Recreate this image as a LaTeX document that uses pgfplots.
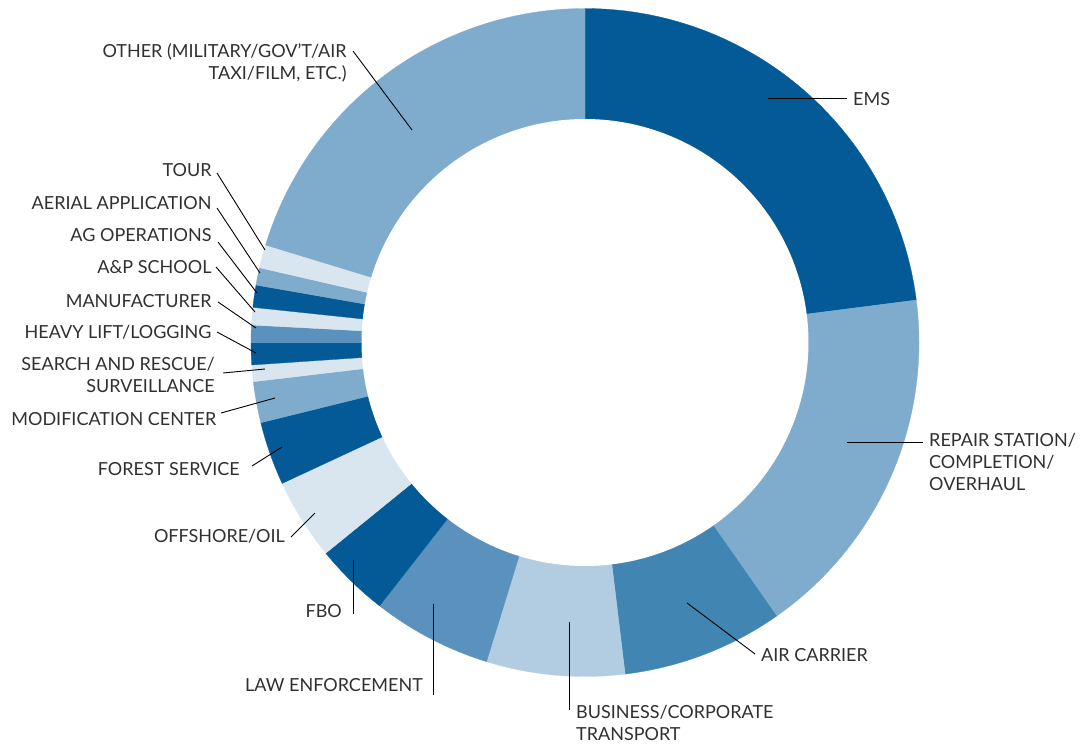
\documentclass[border=0pt]{standalone}
\usepackage{pgfplots}
\pgfplotsset{compat=1.18}
\usepackage{fontspec}
\setmainfont{Lato}
\definecolor{cdark}{RGB}{4,90,150}
\definecolor{cmedl}{RGB}{127,172,205}
\definecolor{cair}{RGB}{65,133,179}
\definecolor{cbiz}{RGB}{178,205,225}
\definecolor{cle}{RGB}{91,146,189}
\definecolor{clight}{RGB}{217,230,240}
\definecolor{ctext}{RGB}{48,48,48}
\tikzset{lab/.style={font=\fontsize{18}{21.8}\selectfont, text=ctext, inner sep=0pt}}
% segment: start angle, end angle (degrees clockwise from 12 o'clock), colour
\newcommand\seg[3]{\addplot[fill=#3, draw=#3, line width=0.3pt, domain=#1:#2, samples=60] ({585+334*sin(x)},{342.5-334*cos(x)}) -- (axis cs:585,342.5) -- cycle;}
\newcommand\lead[4]{\addplot[black, line width=0.9pt] coordinates {(#1,#2) (#3,#4)};}
\begin{document}
\begin{tikzpicture}
\begin{axis}[width=1086pt,height=744pt,scale only axis,xmin=0,xmax=1086,ymin=0,ymax=744,y dir=reverse,hide axis,clip=false]
% Shares: EMS 23.0, Repair 17.3, Air carrier 7.8, Business 6.7, Law enf. 5.8, FBO 3.6, Offshore 3.9,
% Forest 3.1, Modification 2.0, SAR 0.8, Heavy lift 1.1, Manufacturer 0.8, A&P 0.85, AG ops 1.07,
% Aerial app. 0.84, Tour 1.12, Other 20.3 (% of 360 degrees)
\seg{0}{82.7}{cdark}        % EMS
\seg{82.7}{145.0}{cmedl}    % Repair station
\seg{145.0}{173.1}{cair}    % Air carrier
\seg{173.1}{197.15}{cbiz}   % Business/corporate
\seg{197.15}{217.96}{cle}   % Law enforcement
\seg{217.96}{230.9}{cdark}  % FBO
\seg{230.9}{245.05}{clight} % Offshore/oil
\seg{245.05}{256.1}{cdark}  % Forest service
\seg{256.1}{263.26}{cmedl}  % Modification center
\seg{263.26}{266.14}{clight}% Search and rescue
\seg{266.14}{270.0}{cdark}  % Heavy lift
\seg{270.0}{273.0}{cle}     % Manufacturer
\seg{273.0}{276.05}{clight} % A&P school
\seg{276.05}{279.91}{cdark} % AG operations
\seg{279.91}{282.94}{cmedl} % Aerial application
\seg{282.94}{286.97}{clight}% Tour
\seg{286.97}{360}{cmedl}    % Other
\addplot[fill=white, draw=none, domain=0:360, samples=240] ({585+223.5*sin(x)},{342.5-223.5*cos(x)}) -- cycle;
% leader lines
\lead{768}{98}{847}{98}
\lead{847}{442}{923}{442}
\lead{687}{603}{755}{654}
\lead{569}{622}{569}{710}
\lead{433}{604}{433}{695}
\lead{353}{560}{353}{614}
\lead{291}{537}{315}{513}
\lead{252}{466}{282}{447}
\lead{221}{413}{275}{398}
\lead{223}{373}{265}{369}
\lead{217}{332}{256}{353}
\lead{218}{302}{256}{328}
\lead{216}{267}{255}{312}
\lead{218}{242}{257}{293}
\lead{217}{208}{260}{273}
\lead{217}{173}{265}{250}
\lead{353}{51}{412}{130}
% labels (for multi-line labels the base anchor is the last line's baseline)
\node[lab, anchor=base west] at (axis cs:853,105.5) {EMS};
\node[lab, anchor=base west, align=left] at (axis cs:929,490) {REPAIR STATION/\\COMPLETION/\\OVERHAUL};
\node[lab, anchor=base west] at (axis cs:761,661.7) {AIR CARRIER};
\node[lab, anchor=base west, align=left] at (axis cs:576,740.5) {BUSINESS/CORPORATE\\TRANSPORT};
\node[lab, anchor=base east] at (axis cs:423,691.7) {LAW ENFORCEMENT};
\node[lab, anchor=base east] at (axis cs:342,617) {FBO};
\node[lab, anchor=base east] at (axis cs:285,542.7) {OFFSHORE/OIL};
\node[lab, anchor=base east] at (axis cs:240,475) {FOREST SERVICE};
\node[lab, anchor=base east] at (axis cs:216.5,425) {MODIFICATION CENTER};
\node[lab, anchor=base east, align=right] at (axis cs:215,392) {SEARCH AND RESCUE/\\SURVEILLANCE};
\node[lab, anchor=base east] at (axis cs:211.7,338.3) {HEAVY LIFT/LOGGING};
\node[lab, anchor=base east] at (axis cs:211.7,307.3) {MANUFACTURER};
\node[lab, anchor=base east] at (axis cs:211.7,273.3) {A\&P SCHOOL};
\node[lab, anchor=base east] at (axis cs:211.7,241.7) {AG OPERATIONS};
\node[lab, anchor=base east] at (axis cs:211.7,209.3) {AERIAL APPLICATION};
\node[lab, anchor=base east] at (axis cs:211.7,176.7) {TOUR};
\node[lab, anchor=base east, align=right] at (axis cs:346.7,79.5) {OTHER (MILITARY/GOV'T/AIR\\TAXI/FILM, ETC.)};
\end{axis}
\pgfresetboundingbox
\useasboundingbox (current axis.south west) rectangle (current axis.north east);
\end{tikzpicture}
\end{document}
